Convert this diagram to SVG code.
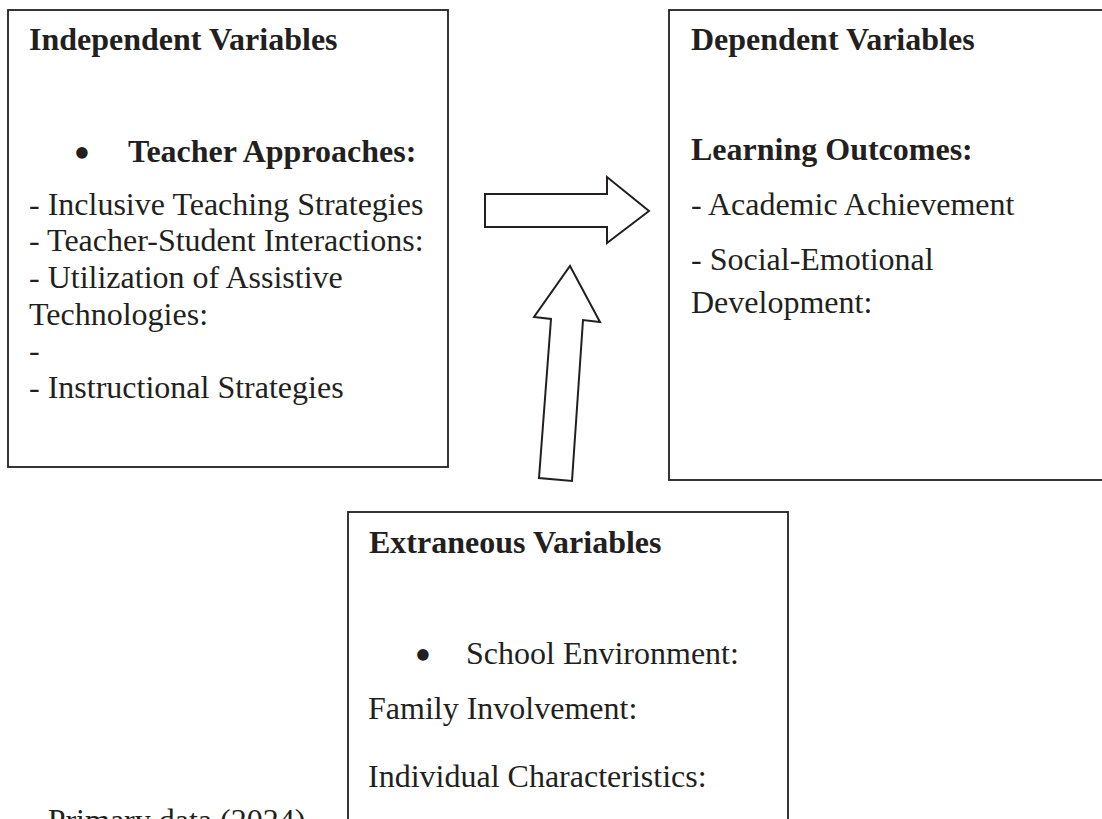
<svg xmlns="http://www.w3.org/2000/svg" width="1102" height="819" viewBox="0 0 1102 819">
<style>
  .box { fill: #ffffff; stroke: #231f20; stroke-width: 1.8; }
  .arrow { fill: #ffffff; stroke: #231f20; stroke-width: 2; stroke-linejoin: miter; }
  text { font-family: "Liberation Serif", "Times New Roman", serif; font-size: 32px; fill: #231f20; }
  .b { font-weight: bold; }
  .bullet { font-size: 48px; text-anchor: middle; }
</style>
<rect width="1102" height="819" fill="#ffffff"/>
<g id="independent">
  <rect class="box" x="8" y="10" width="440" height="457"/>
  <text class="b" x="29" y="50">Independent Variables</text>
  <text class="bullet" x="82" y="169">•</text>
  <text class="b" x="128" y="162">Teacher Approaches:</text>
  <text x="29" y="215">- Inclusive Teaching Strategies</text>
  <text x="29" y="251">- Teacher-Student Interactions:</text>
  <text x="29" y="288">- Utilization of Assistive</text>
  <text x="29" y="325">Technologies:</text>
  <text x="29" y="361">-</text>
  <text x="29" y="398">- Instructional Strategies</text>
</g>
<g id="dependent">
  <rect class="box" x="669" y="10" width="450" height="470"/>
  <text class="b" x="691" y="50">Dependent Variables</text>
  <text class="b" x="691" y="160">Learning Outcomes:</text>
  <text x="691" y="215">- Academic Achievement</text>
  <text x="691" y="270">- Social-Emotional</text>
  <text x="691" y="313">Development:</text>
</g>
<g id="extraneous">
  <rect class="box" x="348" y="512" width="440" height="330"/>
  <text class="b" x="369" y="553">Extraneous Variables</text>
  <text class="bullet" x="423" y="671">•</text>
  <text x="466" y="664">School Environment:</text>
  <text x="368" y="719">Family Involvement:</text>
  <text x="368" y="787">Individual Characteristics:</text>
</g>
<g id="source">
  <text x="29" y="831">- Primary data (2024)</text>
</g>
<g id="connectors">
  <polygon class="arrow" points="485,194 607,194 607,177 649,211 607,243 607,227 485,227"/>
  <polygon class="arrow" points="570,266 600,322 583,320 572,481 539,478 551,319 534,317"/>
</g>
</svg>
